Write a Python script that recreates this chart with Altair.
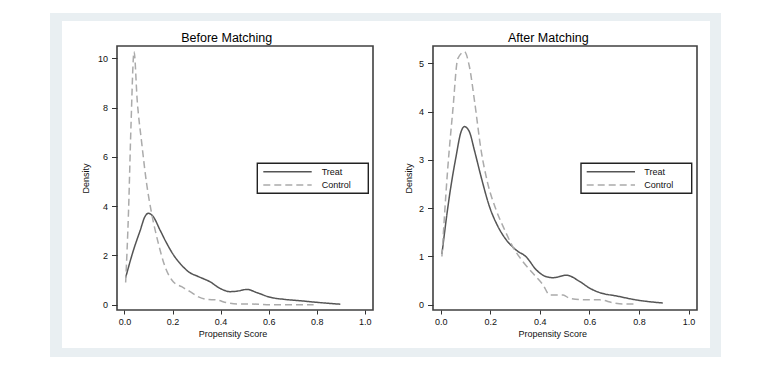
import altair as alt
import pandas as pd

SERIES = ["Treat", "Control"]
X_TICKS = [0.0, 0.2, 0.4, 0.6, 0.8, 1.0]
Y_TICKS_BEFORE = [0, 2, 4, 6, 8, 10]
Y_TICKS_AFTER = [0, 1, 2, 3, 4, 5]

# Before matching
before_treat_x = [0.005, 0.037, 0.065, 0.085, 0.099, 0.12, 0.148, 0.176, 0.204, 0.231, 0.266,
                  0.308, 0.356, 0.398, 0.44, 0.468, 0.51, 0.551, 0.607, 0.662, 0.732, 0.801, 0.898]
before_treat_y = [1.1, 2.2, 3.0, 3.57, 3.71, 3.57, 3.03, 2.49, 2.02, 1.68, 1.34,
                  1.14, 0.93, 0.66, 0.53, 0.55, 0.62, 0.49, 0.30, 0.22, 0.16, 0.095, 0.02]
before_ctrl_x = [0.005, 0.017, 0.027, 0.04, 0.053, 0.072, 0.092, 0.113, 0.141, 0.169, 0.203,
                 0.238, 0.273, 0.308, 0.342, 0.384, 0.426, 0.468, 0.523, 0.593, 0.787]
before_ctrl_y = [0.9, 3.8, 7.2, 10.27, 8.3, 6.55, 4.93, 3.71, 2.49, 1.54, 0.93,
                 0.73, 0.53, 0.32, 0.22, 0.19, 0.08, 0.03, 0.03, 0.0, 0.0]

# After matching
after_treat_x = [0.005, 0.035, 0.062, 0.082, 0.096, 0.116, 0.136, 0.163, 0.197, 0.231, 0.265,
                 0.305, 0.345, 0.386, 0.426, 0.453, 0.507, 0.561, 0.602, 0.642, 0.71, 0.791, 0.896]
after_treat_y = [1.05, 2.24, 3.07, 3.58, 3.69, 3.58, 3.2, 2.65, 2.03, 1.62, 1.34,
                 1.13, 0.99, 0.72, 0.58, 0.56, 0.61, 0.48, 0.34, 0.25, 0.18, 0.097, 0.035]
after_ctrl_x = [0.005, 0.028, 0.049, 0.069, 0.096, 0.116, 0.136, 0.163, 0.19, 0.224, 0.258,
                0.291, 0.332, 0.372, 0.413, 0.44, 0.494, 0.521, 0.602, 0.642, 0.696, 0.737, 0.784]
after_ctrl_y = [1.0, 2.79, 4.03, 5.1, 5.24, 4.93, 4.24, 3.2, 2.51, 1.96, 1.55,
                1.2, 0.89, 0.65, 0.41, 0.2, 0.2, 0.13, 0.1, 0.1, 0.04, 0.015, 0.015]

FONT = "Liberation Sans"
H = 264
dummy = pd.DataFrame({"k": [0]})


def make_df(tx, ty, cx, cy):
    a = pd.DataFrame({"x": tx, "y": ty, "series": "Treat", "order": range(len(tx))})
    b = pd.DataFrame({"x": cx, "y": cy, "series": "Control", "order": range(len(cx))})
    return pd.concat([a, b], ignore_index=True)


color_enc = alt.Color("series:N", scale=alt.Scale(domain=SERIES, range=["#555555", "#ababab"]), legend=None)
dash_enc = alt.StrokeDash("series:N", scale=alt.Scale(domain=SERIES, range=[[1, 0], [7, 4]]), legend=None)


def panel(title, df, ydom, yticks, w, bg, title_x, xt_x, yt_x, leg):
    gx0, gx1, wx0, wx1 = bg
    gray = alt.Chart(dummy).mark_rect(color="#e9eff2").encode(
        x=alt.value(gx0), x2=alt.value(gx1), y=alt.value(-33), y2=alt.value(311))
    white = alt.Chart(dummy).mark_rect(color="#ffffff").encode(
        x=alt.value(wx0), x2=alt.value(wx1), y=alt.value(-25), y2=alt.value(302))
    lines = alt.Chart(df).mark_line(strokeWidth=1.5, interpolate="monotone").encode(
        x=alt.X("x:Q", scale=alt.Scale(domain=[-0.031, 1.034], nice=False, zero=False),
                axis=alt.Axis(values=X_TICKS, format=".1f", domain=False, grid=False, tickSize=4,
                              tickColor="#333333", labelFontSize=9, labelFont=FONT, labelColor="#111111",
                              labelPadding=3, title="Propensity Score", titleFont=FONT, titleFontSize=9,
                              titleFontWeight="normal", titleColor="#111111", titleX=xt_x, titleY=23,
                              titleAlign="center", titleBaseline="middle", zindex=1)),
        y=alt.Y("y:Q", scale=alt.Scale(domain=ydom, nice=False, zero=False),
                axis=alt.Axis(values=yticks, format="d", domain=False, grid=False, tickSize=5.5,
                              tickColor="#333333", labelFontSize=9, labelFont=FONT, labelColor="#111111",
                              labelPadding=4, title="Density", titleFont=FONT, titleFontSize=9,
                              titleFontWeight="normal", titleColor="#111111", titleX=yt_x, titleY=132,
                              titleAngle=270, titleAlign="center", titleBaseline="middle", zindex=1)),
        color=color_enc, strokeDash=dash_enc, order="order:Q")
    frame = alt.Chart(dummy).mark_rect(fillOpacity=0, stroke="#404040", strokeWidth=1.6).encode(
        x=alt.value(0), x2=alt.value(w), y=alt.value(0), y2=alt.value(H))
    bx0, bx1, lx0, lx1, tx = leg
    box = alt.Chart(dummy).mark_rect(fill="#ffffff", stroke="#222222", strokeWidth=1.4).encode(
        x=alt.value(bx0), x2=alt.value(bx1), y=alt.value(117.3), y2=alt.value(147.3))
    legdf = pd.DataFrame({"series": SERIES, "row": [0, 1]})
    base = alt.Chart(legdf).transform_calculate(ly="125.7 + datum.row * 13.3")
    legline = base.mark_rule(strokeWidth=1.4).encode(
        x=alt.value(lx0), x2=alt.value(lx1), y=alt.Y("ly:Q", scale=None, axis=None),
        color=color_enc, strokeDash=dash_enc)
    legtext = base.mark_text(align="left", baseline="middle", font=FONT, fontSize=9, color="#111111").encode(
        x=alt.value(tx), y=alt.Y("ly:Q", scale=None, axis=None), text="series:N")
    ttl = alt.Chart(dummy).mark_text(align="center", baseline="alphabetic", font=FONT, fontSize=12.5,
                                      color="#000000").encode(
        x=alt.value(title_x), y=alt.value(-3.7), text=alt.value(title))
    return alt.layer(gray, white, lines, frame, box, legline, legtext, ttl).properties(width=w, height=H)


left = panel("Before Matching", make_df(before_treat_x, before_treat_y, before_ctrl_x, before_ctrl_y),
             [-0.215, 10.5], Y_TICKS_BEFORE, 256, (-67, 278, -55, 278), 109.7, 115.5, -32,
             (140.3, 251.3, 146.3, 194.7, 204.7))
right = panel("After Matching", make_df(after_treat_x, after_treat_y, after_ctrl_x, after_ctrl_y),
              [-0.11, 5.36], Y_TICKS_AFTER, 264, (-38, 288, -38, 277), 115.3, 119.2, -24.7,
              (148.0, 258.7, 153.7, 202.0, 211.3))

chart = alt.hconcat(left, right, spacing=0).configure_view(stroke=None).properties(
    padding={"left": 42, "top": 5, "right": 5, "bottom": 5})

chart.save("out.html", embed_options={"renderer": "svg", "actions": False})
